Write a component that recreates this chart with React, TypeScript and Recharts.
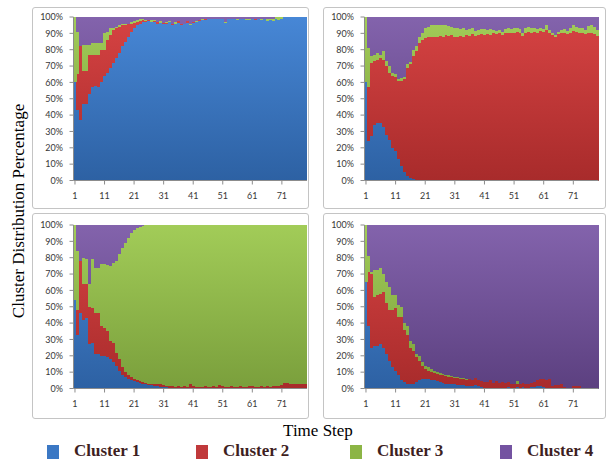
import React from 'react';
import { BarChart, Bar, XAxis, YAxis } from 'recharts';

const steps = [
  1, 2, 3, 4, 5, 6, 7, 8, 9, 10, 11, 12, 13, 14, 15, 16, 17, 18, 19, 20,
  21, 22, 23, 24, 25, 26, 27, 28, 29, 30, 31, 32, 33, 34, 35, 36, 37, 38, 39, 40,
  41, 42, 43, 44, 45, 46, 47, 48, 49, 50, 51, 52, 53, 54, 55, 56, 57, 58, 59, 60,
  61, 62, 63, 64, 65, 66, 67, 68, 69, 70, 71, 72, 73, 74, 75, 76, 77, 78, 79,
];

const yTicks = [0, 0.1, 0.2, 0.3, 0.4, 0.5, 0.6, 0.7, 0.8, 0.9, 1];
const legendLabels = ['Cluster 1', 'Cluster 2', 'Cluster 3', 'Cluster 4'];

// Panel 1 (top-left)
const p1c1 = [
  60, 43, 37, 47, 47, 53, 57, 58, 57, 60,
  64, 66, 69, 72, 75, 78, 82, 85, 88, 91,
  93, 95, 96, 97, 97, 97.5, 97, 97, 96, 96.5,
  96, 95.5, 97, 95, 96, 96.5, 95, 96, 96.5, 95,
  96.5, 97, 97.5, 98, 98, 98.5, 98.5, 99, 98.5, 99,
  98.5, 96.5, 98.5, 98.5, 99, 98, 98.5, 98.5, 98, 98,
  98.5, 98, 98.5, 98, 98.5, 97.5, 98, 97.5, 99, 98,
  98.5, 100, 100, 100, 100, 100, 100, 100, 100,
];
const p1c2 = [
  0, 22, 45, 20, 20, 24, 20, 19, 20, 20,
  16, 20, 20, 20, 18, 16, 13, 10, 7.5, 5,
  3.5, 2, 1.5, 1, 0.5, 0.5, 0, 0.5, 1, 0,
  0.5, 1, 0, 1, 0, 1, 0.5, 0, 1, 0,
  0.5, 0, 0.5, 0, 0.5, 0, 0, 0, 0, 0,
  0.5, 0, 0, 0, 0, 0, 0, 0, 0, 0,
  0, 0.5, 0, 0, 0, 0, 0, 0, 0, 0,
  0, 0, 0, 0, 0, 0, 0, 0, 0,
];
const p1c3 = [
  40, 26, 0, 16, 16, 6, 7, 7, 7, 4,
  10, 5, 4, 1.5, 1, 1, 0.5, 1, 0.5, 1,
  1, 1, 1, 0.5, 0.5, 0, 1, 0.5, 0, 1,
  0, 0.5, 0.5, 0, 1, 0, 0.5, 0, 0, 0.5,
  0, 0.5, 0, 0.5, 0, 0, 0.5, 0, 0.5, 0,
  0, 0.5, 0, 0.5, 0, 1, 0.5, 0, 1, 1,
  0.5, 0, 0.5, 1, 0, 1, 0.5, 1, 1, 2,
  1.5, 0, 0, 0, 0, 0, 0, 0, 0,
];
const p1c4 = [
  0, 9, 18, 17, 17, 17, 16, 16, 16, 16,
  10, 9, 7, 6.5, 6, 5, 4.5, 4, 4, 3,
  2.5, 2, 1.5, 1.5, 2, 2, 2, 2, 3, 2.5,
  3.5, 3, 2.5, 4, 3, 2.5, 4, 4, 2.5, 4.5,
  3, 2.5, 2, 1.5, 1.5, 1.5, 1, 1, 1, 1,
  1, 3, 1.5, 1, 1, 1, 1, 1.5, 1, 1,
  1, 1.5, 1, 1, 1.5, 1.5, 1.5, 1.5, 0, 0,
  0, 0, 0, 0, 0, 0, 0, 0, 0,
];

// Panel 2 (top-right)
const p2c1 = [
  60, 24, 27, 34, 35, 35, 33, 28, 25, 20,
  18, 13, 9, 5, 3, 1.5, 1, 0.5, 0.5, 0.3,
  0, 0, 0, 0, 0, 0, 0, 0, 0, 0,
  0, 0, 0, 0, 0, 0, 0, 0, 0, 0,
  0, 0, 0, 0, 0, 0, 0, 0, 0, 0,
  0, 0, 0, 0, 0, 0, 0, 0, 0, 0,
  0, 0, 0, 0, 0, 0, 0, 0, 0, 0,
  0, 0, 0, 0, 0, 0, 0, 0, 0,
];
const p2c2 = [
  0, 33, 45, 39, 39, 40, 41, 42, 41, 44,
  45, 48, 52, 57, 66, 69.5, 75, 78.5, 83.5, 85.7,
  87, 88, 87.5, 88, 87.5, 88.5, 88, 89, 88.5, 89,
  88, 87.5, 88.5, 88, 89, 88.5, 89.5, 88.5, 89, 89.5,
  89, 89.5, 89, 90, 89.5, 90, 89, 90, 90.5, 90,
  90.5, 91, 90.5, 88.5, 90.5, 91, 90.5, 91, 90.5, 91.5,
  91, 92, 90, 89, 88, 89.5, 90, 90.5, 89.5, 90.5,
  91.5, 91, 90.5, 90, 89.5, 90, 90.5, 89.5, 88.5,
];
const p2c3 = [
  40, 24, 4, 4, 4, 1.5, 5, 3, 4, 2,
  2, 1, 1.5, 1, 2, 1.5, 4, 3, 4, 4,
  6, 6, 7.5, 7, 7.5, 6.5, 7, 6, 6, 5,
  5, 5.5, 4, 5, 3, 4, 3.5, 3, 3, 3,
  3.5, 2.5, 3.5, 2, 2, 2, 2, 2.5, 2.5, 2.5,
  2.5, 2.5, 2, 2, 2.5, 3, 2.5, 2, 2, 2,
  1.5, 3, 2, 1, 1, 1.5, 2, 2, 2, 2.5,
  3.5, 3, 3, 3, 2.5, 4.5, 4.5, 4.5, 3.5,
];
const p2c4 = [
  0, 19, 24, 23, 22, 23.5, 21, 27, 30, 34,
  35, 38, 37.5, 37, 29, 27.5, 20, 18, 12, 10,
  7, 6, 5, 5, 5, 5, 5, 5, 5.5, 6,
  7, 7, 7.5, 7, 8, 7.5, 7, 8.5, 8, 7.5,
  7.5, 8, 7.5, 8, 8.5, 8, 9, 7.5, 7, 7.5,
  7, 6.5, 7.5, 9.5, 7, 6, 7, 7, 7.5, 6.5,
  7.5, 5, 8, 10, 11, 9, 8, 7.5, 8.5, 7,
  5, 6, 6.5, 7, 8, 5.5, 5, 6, 8,
];

// Panel 3 (bottom-left)
const p3c1 = [
  54, 33, 46, 42, 43, 27, 28, 21, 21, 20,
  20, 19, 18, 16, 14, 11, 8, 7, 6, 5,
  4.5, 4, 3.5, 3, 2.5, 2, 2, 1.5, 1.5, 1,
  1, 1, 0.5, 0.5, 0.5, 0.5, 0.5, 0.5, 0.5, 0.5,
  0, 0, 0, 0, 0, 0, 0, 0, 0, 0,
  0, 0, 0, 0, 0, 0, 0, 0, 0, 0,
  0, 0, 0, 0, 0, 0, 0, 0, 0, 0,
  0, 0, 0, 0, 0, 0, 0, 0, 0,
];
const p3c2 = [
  0, 15, 32, 22, 21, 23, 21, 25, 25, 18,
  17, 16, 11, 12, 8, 7, 5, 3, 2, 2,
  1.5, 1, 1, 1, 1, 1, 1, 1, 1, 1.5,
  1, 0.5, 1, 1, 0.5, 1, 0.5, 1, 0.5, 2,
  1.5, 1, 1, 1, 1.5, 1, 1, 1.5, 1, 2,
  1.5, 1, 1, 1.5, 1, 1, 1.5, 1, 1, 1.5,
  1.5, 1, 1, 1.5, 1, 1.5, 1, 1.5, 1.5, 1.5,
  2, 3.5, 3.5, 3, 3, 3, 3, 3, 3,
];
const p3c3 = [
  46, 36, 0, 16, 15, 14, 30, 27.5, 28, 38,
  39, 40.5, 46, 49, 56, 64, 73, 79, 84, 88,
  91, 93, 94.5, 95.5, 96.2, 96.7, 96.7, 97.2, 97.2, 97.2,
  97.7, 98.2, 98.2, 98.2, 98.7, 98.2, 98.7, 98.2, 98.7, 97.2,
  98.2, 98.7, 98.7, 98.7, 98.2, 98.7, 99, 98.5, 99, 98,
  98.5, 99, 99, 98.5, 99, 99, 98.5, 99, 99, 98.5,
  98.5, 99, 99, 98.5, 99, 98.5, 99, 98.5, 98.5, 98.5,
  98, 96.5, 96.5, 97, 97, 97, 97, 97, 97,
];
const p3c4 = [
  0, 16, 22, 20, 21, 36, 21, 26.5, 26, 24,
  24, 24.5, 25, 23, 22, 18, 14, 11, 8, 5,
  3, 2, 1, 0.5, 0.3, 0.3, 0.3, 0.3, 0.3, 0.3,
  0.3, 0.3, 0.3, 0.3, 0.3, 0.3, 0.3, 0.3, 0.3, 0.3,
  0.3, 0.3, 0.3, 0.3, 0.3, 0.3, 0, 0, 0, 0,
  0, 0, 0, 0, 0, 0, 0, 0, 0, 0,
  0, 0, 0, 0, 0, 0, 0, 0, 0, 0,
  0, 0, 0, 0, 0, 0, 0, 0, 0,
];

// Panel 4 (bottom-right)
const p4c1 = [
  65, 38, 25, 26, 26, 27, 25, 21, 17, 13,
  11, 8, 5, 4, 3, 2.5, 2.5, 4, 5, 6,
  6, 6, 5.5, 5, 4.5, 4, 3.5, 3, 3, 2.5,
  2.5, 2, 2, 2, 1.5, 1.5, 1.5, 2, 1.5, 1,
  0.5, 0.5, 0.5, 0.5, 0.5, 0.5, 0.5, 0.5, 1, 0.5,
  0.5, 1, 0.5, 1, 0.5, 0.5, 1, 1, 1.5, 1.5,
  1, 0.5, 0.5, 0, 0, 0, 0, 0, 0, 0,
  0, 0, 0, 0, 0, 0, 0, 0, 0,
];
const p4c2 = [
  0, 33, 45, 30, 31, 31, 34, 31, 31, 35,
  38, 36, 39, 32, 30, 22.5, 20.5, 15, 12, 8,
  6, 5, 4.5, 4.5, 4.5, 4.5, 4.5, 4.5, 4, 4.5,
  4, 4.5, 4, 4, 4, 4.5, 3.5, 4.5, 3.5, 3.5,
  3.5, 3.5, 4.5, 3, 4, 3, 3.5, 3, 3, 2.5,
  2, 2, 2, 2.5, 2.5, 2.5, 2.5, 3, 3.5, 4.5,
  5, 4.5, 5.5, 1.5, 2, 2, 3, 1, 0, 0.5,
  1.5, 1.5, 1.5, 0, 0, 0, 0, 0, 0,
];
const p4c3 = [
  35, 10, 1, 16.5, 15.5, 16, 11, 13, 14, 9,
  8, 7, 6, 4, 5, 4, 4, 2, 3, 2,
  2, 2, 2, 1.5, 1, 1, 1, 1, 1, 0.5,
  0.5, 0.5, 0.5, 0.5, 0.5, 0, 0.5, 0, 0, 0,
  0, 0, 0, 0, 0, 0, 0, 0, 0, 0,
  0.5, 1.5, 0, 0, 0, 0, 0, 0, 0, 0,
  0, 0, 0, 0, 0, 0, 0, 0, 0, 0,
  0, 0, 0, 0, 0, 0, 0, 0, 0,
];
const p4c4 = [
  0, 19, 29, 27.5, 27.5, 26, 30, 35, 38, 43,
  43, 49, 50, 60, 62, 71, 73, 79, 80, 84,
  86, 87, 88, 89, 90, 90.5, 91, 91.5, 92, 92.5,
  93, 93, 93.5, 93.5, 94, 94, 94.5, 93.5, 95, 95.5,
  96, 96, 95, 96.5, 95.5, 96.5, 96, 96.5, 96, 97,
  97, 95.5, 97.5, 96.5, 97, 97, 96.5, 96, 95, 94,
  94, 95, 94, 98.5, 98, 98, 97, 99, 100, 99.5,
  98.5, 98.5, 98.5, 100, 100, 100, 100, 100, 100,
];

const gradStops = [
  { key: 'c1', top: '#4787d6', bottom: '#2d61a3' },
  { key: 'c2', top: '#d64343', bottom: '#a82b2b' },
  { key: 'c3', top: '#a2cc58', bottom: '#7a9f3c' },
  { key: 'c4', top: '#8363ac', bottom: '#5c4080' },
];
const legendColors = ['#3b78c4', '#c0393b', '#8cb545', '#7453a1'];

const axisColor = '#8c8c8c';
const tickStyle = { fontSize: 9, fill: '#383838', fontFamily: 'Lato, "Open Sans", sans-serif' };

function buildRows(c1: number[], c2: number[], c3: number[], c4: number[]) {
  return steps.map((s, i) => ({ step: s, c1: c1[i], c2: c2[i], c3: c3[i], c4: c4[i] }));
}

type PanelProps = {
  id: string;
  rows: any[];
  left: number;
  top: number;
  boxW: number;
  boxH: number;
  chartW: number;
  chartH: number;
  mTop: number;
  mRight: number;
  xH: number;
};

function Panel({ id, rows, left, top, boxW, boxH, chartW, chartH, mTop, mRight, xH }: PanelProps) {
  const plotTop = mTop;
  const plotBottom = chartH - xH;
  return (
    <div
      style={{
        position: 'absolute',
        left,
        top,
        width: boxW,
        height: boxH,
        boxSizing: 'border-box',
        border: '1px solid #c4c4c4',
        borderRadius: 3,
        background: '#ffffff',
      }}
    >
      <BarChart
        width={chartW}
        height={chartH}
        data={rows}
        stackOffset="expand"
        barCategoryGap={0}
        barGap={0}
        margin={{ top: mTop, right: mRight, bottom: 0, left: 0 }}
      >
        <defs>
          {gradStops.map((g) => (
            <linearGradient
              key={g.key}
              id={`${id}-${g.key}`}
              gradientUnits="userSpaceOnUse"
              x1="0"
              y1={plotTop}
              x2="0"
              y2={plotBottom}
            >
              <stop offset="0%" stopColor={g.top} />
              <stop offset="100%" stopColor={g.bottom} />
            </linearGradient>
          ))}
        </defs>
        <XAxis
          dataKey="step"
          interval={9}
          height={xH}
          tickSize={4}
          tickMargin={8}
          axisLine={{ stroke: axisColor }}
          tickLine={{ stroke: axisColor }}
          tick={tickStyle}
        />
        <YAxis
          type="number"
          domain={[0, 1]}
          ticks={yTicks}
          interval={0}
          width={40.5}
          tickSize={4}
          tickMargin={6.5}
          axisLine={{ stroke: axisColor }}
          tickLine={{ stroke: axisColor }}
          tick={tickStyle}
          tickFormatter={(v: number) => `${Math.round(v * 100)}%`}
        />
        {gradStops.map((g) => (
          <Bar
            key={g.key}
            dataKey={g.key}
            stackId="s"
            fill={`url(#${id}-${g.key})`}
            isAnimationActive={false}
          />
        ))}
      </BarChart>
    </div>
  );
}

const rows1 = buildRows(p1c1, p1c2, p1c3, p1c4);
const rows2 = buildRows(p2c1, p2c2, p2c3, p2c4);
const rows3 = buildRows(p3c1, p3c2, p3c3, p3c4);
const rows4 = buildRows(p4c1, p4c2, p4c3, p4c4);

const legendX = [47, 196, 350, 500];

export default function App() {
  const serif = '"Liberation Serif", "DejaVu Serif", "Times New Roman", serif';
  return (
    <div
      style={{
        position: 'absolute',
        left: 0,
        top: 0,
        width: 610,
        height: 464,
        background: '#ffffff',
        overflow: 'hidden',
      }}
    >
      <style>{'.recharts-bar-rectangle path{shape-rendering:crispEdges}'}</style>
      <Panel id="p1" rows={rows1} left={32} top={7} boxW={277} boxH={202} chartW={275} chartH={200} mTop={9} mRight={1} xH={27.5} />
      <Panel id="p2" rows={rows2} left={323} top={7} boxW={283} boxH={202} chartW={281} chartH={200} mTop={9} mRight={6.5} xH={27.5} />
      <Panel id="p3" rows={rows3} left={32} top={213} boxW={277} boxH={206} chartW={275} chartH={204} mTop={11} mRight={1} xH={29.5} />
      <Panel id="p4" rows={rows4} left={323} top={213} boxW={283} boxH={206} chartW={281} chartH={204} mTop={11} mRight={6.5} xH={29.5} />

      <div
        style={{
          position: 'absolute',
          left: 19 - 160,
          top: 211 - 10,
          width: 320,
          height: 20,
          lineHeight: '20px',
          textAlign: 'center',
          transform: 'rotate(-90deg)',
          fontFamily: serif,
          fontSize: 17,
          color: '#000',
          whiteSpace: 'nowrap',
        }}
      >
        Cluster Distribution Percentage
      </div>

      <div
        style={{
          position: 'absolute',
          left: 318 - 100,
          top: 421,
          width: 200,
          height: 20,
          lineHeight: '20px',
          textAlign: 'center',
          fontFamily: serif,
          fontSize: 17,
          color: '#000',
        }}
      >
        Time Step
      </div>

      {legendLabels.map((label, i) => (
        <React.Fragment key={label}>
          <div
            style={{
              position: 'absolute',
              left: legendX[i],
              top: 445,
              width: 12,
              height: 14,
              background: legendColors[i],
            }}
          />
          <div
            style={{
              position: 'absolute',
              left: legendX[i] + 27,
              top: 441,
              height: 20,
              lineHeight: '20px',
              fontFamily: serif,
              fontWeight: 'bold',
              fontSize: 17,
              color: '#3f1f1f',
              whiteSpace: 'nowrap',
            }}
          >
            {label}
          </div>
        </React.Fragment>
      ))}
    </div>
  );
}
